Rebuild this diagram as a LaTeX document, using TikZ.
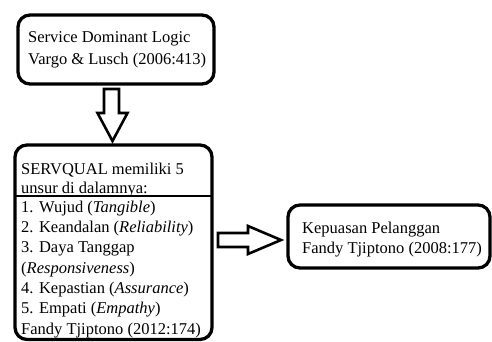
\documentclass[tikz,border=0pt]{standalone}
\usepackage{fontspec}
\setmainfont{Liberation Serif}
\begin{document}
\begin{tikzpicture}[x=1pt,y=-1pt,
  boxshape/.style={draw=black, line width=3.3pt, rounded corners=12pt},
  blockarrow/.style={draw=black, line width=2.6pt, fill=white, line join=miter},
  txt/.style={anchor=base west, inner sep=0pt, font=\fontsize{16.5}{20}\selectfont}]
\useasboundingbox (0,0) rectangle (492,342);
% boxes
\draw[boxshape] (18,15) rectangle (214,84);
\draw[boxshape] (15,145) rectangle (212,339.5);
\draw[line width=1.3pt] (15,196) -- (212,196);
\draw[boxshape] (288,205) rectangle (490,268);
% top box text
\node[txt] (t1) at (28,43) {Service Dominant Logic};
\node[txt] (t2) at (28,65) {Vargo \& Lusch (2006:413)};
% middle box text
\node[txt] (m1) at (21,174) {SERVQUAL memiliki 5};
\node[txt] (m2) at (21,193) {unsur di dalamnya:};
\node[txt] (m3) at (21,212) {1. Wujud (\textit{Tangible})};
\node[txt] (m4) at (21,232.3) {2. Keandalan (\textit{Reliability})};
\node[txt] (m5) at (21,252.7) {3. Daya Tanggap};
\node[txt] (m6) at (21,273) {(\textit{Responsiveness})};
\node[txt] (m7) at (21,293.3) {4. Kepastian (\textit{Assurance})};
\node[txt] (m8) at (21,313.7) {5. Empati (\textit{Empathy})};
\node[txt] (m9) at (21,334) {Fandy Tjiptono (2012:174)};
% right box text
\node[txt] (r1) at (302,233) {Kepuasan Pelanggan};
\node[txt] (r2) at (302,253) {Fandy Tjiptono (2008:177)};
% down block arrow
\draw[blockarrow] (104,89) -- (119,89) -- (119,113) -- (127.5,113) -- (112.5,141) -- (97.5,113) -- (104,113) -- cycle;
% right block arrow
\draw[blockarrow] (218,233) -- (248,233) -- (248,226) -- (281,240) -- (248,254) -- (248,247) -- (218,247) -- cycle;
\end{tikzpicture}
\end{document}
